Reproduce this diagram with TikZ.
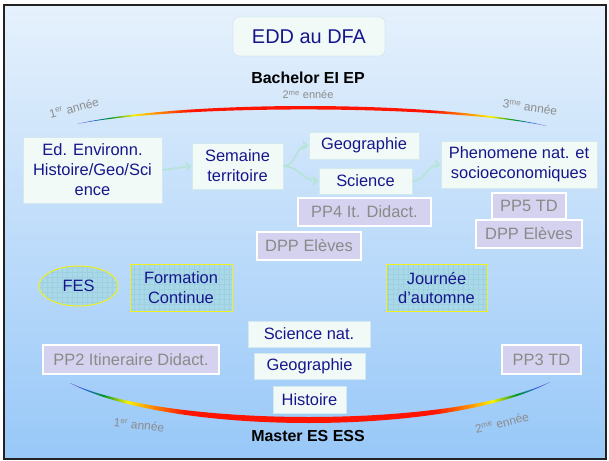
\documentclass[tikz,border=0pt]{standalone}
\usepackage{fontspec}
\setmainfont{Liberation Sans}
\usetikzlibrary{arrows.meta,shapes.geometric}
\definecolor{navy}{RGB}{22,22,140}
\definecolor{bgtop}{RGB}{230,241,252}
\definecolor{bgbot}{RGB}{152,200,248}
\definecolor{lfill}{RGB}{242,250,248}
\definecolor{lborder}{RGB}{212,232,240}
\definecolor{ppfill}{RGB}{212,210,238}
\definecolor{pptext}{RGB}{138,138,138}
\definecolor{tealfill}{RGB}{169,216,232}
\definecolor{gridc}{RGB}{158,208,226}
\definecolor{yel}{RGB}{240,240,30}
\definecolor{mint}{RGB}{182,228,216}
\definecolor{yrgray}{RGB}{140,140,140}
\definecolor{framec}{RGB}{34,34,34}
\definecolor{rbviolet}{RGB}{110,40,200}
\definecolor{rbblue}{RGB}{40,100,225}
\definecolor{rbgreen}{RGB}{0,150,40}
\definecolor{rbyellow}{RGB}{250,240,0}
\definecolor{rborange}{RGB}{255,140,0}
\definecolor{rbred}{RGB}{255,20,0}
\pgfdeclarehorizontalshading{rainbow}{100bp}{color(0bp)=(rbviolet); color(25bp)=(rbviolet); color(26.5bp)=(rbblue); color(28.5bp)=(rbgreen); color(31bp)=(rbyellow); color(33.5bp)=(rborange); color(37bp)=(rbred); color(63bp)=(rbred); color(66.5bp)=(rborange); color(69bp)=(rbyellow); color(71.5bp)=(rbgreen); color(73.5bp)=(rbblue); color(75bp)=(rbviolet); color(100bp)=(rbviolet)}
\begin{document}
\begin{tikzpicture}[x=1bp,y=-1bp,
  txt/.style={font=\fontsize{16.5}{20}\selectfont, text=navy, align=center},
  lbox/.style={txt, draw=lborder, fill=lfill, line width=0.8bp, inner sep=0pt},
  ppbox/.style={font=\fontsize{16.5}{20}\selectfont, text=pptext, draw=white, fill=ppfill, line width=2.2bp, inner sep=0pt},
  gridfill/.style={fill=tealfill, path picture={\draw[gridc, line width=0.3bp, step=5bp] (path picture bounding box.south west) grid (path picture bounding box.north east);}, postaction={draw=yel, line width=1bp}},
  tbox/.style={txt, gridfill, inner sep=0pt},
  conn/.style={draw=mint, line width=1.8bp, -{Straight Barb[length=4.5bp,width=8bp]}},
  yr/.style={font=\fontsize{12}{14}\selectfont, text=yrgray, inner sep=0pt},
  ttl/.style={font=\bfseries\fontsize{16}{18}\selectfont, text=black, inner sep=0pt},
]
\useasboundingbox (0,0) rectangle (609,461);
\fill[white] (0,0) rectangle (609,461);
\shade[top color=bgtop, bottom color=bgbot] (4,5) rectangle (606,459);
\draw[framec, line width=2.5bp] (4,5) rectangle (606,459);

% title
\node[txt, draw=lborder, fill=lfill, rounded corners=6bp, line width=0.8bp, minimum width=152bp, minimum height=39bp, font=\fontsize{20}{24}\selectfont] (edd) at (309,36.5) {EDD au DFA};
\node[ttl] (bach) at (308,78) {Bachelor EI EP};
\node[yr, font=\fontsize{11}{13}\selectfont] (en2) at (308,95) {2\textsuperscript{me} ennée};
\node[yr, rotate=15] (y1top) at (74,108) {1\textsuperscript{er} année};
\node[yr, rotate=-8] (y3top) at (530,107) {3\textsuperscript{me} année};

% rainbow arcs
\shade[shading=rainbow] (77,124) .. controls (180,99.7) and (440,99.7) .. (547,126) .. controls (440,104.3) and (180,104.3) .. (77,124) -- cycle;
\shade[shading=rainbow] (70,383) .. controls (170,436.5) and (450,436.5) .. (550,382) .. controls (450,428.5) and (170,428.5) .. (70,383) -- cycle;

% bachelor row
\node[lbox, minimum width=139bp, minimum height=66bp] (ed) at (92.5,170) {Ed. Environn.\\Histoire/Geo/Sci\\ence};
\node[lbox, minimum width=91bp, minimum height=46bp] (sem) at (237.5,166) {Semaine\\territoire};
\node[lbox, minimum width=110bp, minimum height=27bp] (geo1) at (364,145.5) {Geographie};
\node[lbox, minimum width=93bp, minimum height=26bp] (sci1) at (365.5,181) {Science};
\node[lbox, minimum width=156bp, minimum height=47bp] (phen) at (519,164.5) {Phenomene nat. et\\socioeconomiques};

\node[ppbox, minimum width=133bp, minimum height=28bp] (pp4) at (364.5,212) {PP4 It. Didact.};
\node[ppbox, minimum width=106bp, minimum height=28bp] (dpp2) at (529,234) {DPP Elèves};
\node[ppbox, minimum width=74bp, minimum height=26bp] (pp5) at (529,206) {PP5 TD};
\node[ppbox, minimum width=104bp, minimum height=28bp] (dpp1) at (309,246) {DPP Elèves};

\draw[conn] (ed.east) -- (sem.west);
\draw[conn] (sem.east) to[out=0,in=180] (geo1.west);
\draw[conn] (sem.east) to[out=0,in=180] (sci1.west);
\draw[conn] (sci1.east) to[out=0,in=180] (phen.west);

% middle row
\node[ellipse, txt, gridfill, inner sep=0pt, minimum width=79bp, minimum height=40bp] (fes) at (78.5,286) {FES};
\node[tbox, minimum width=102bp, minimum height=46bp] (form) at (181,288) {Formation\\Continue};
\node[tbox, minimum width=101bp, minimum height=46bp] (jour) at (436.5,288) {Journée\\d’automne};

% master row
\node[lbox, minimum width=122bp, minimum height=26bp] (scin) at (309,334) {Science nat.};
\node[lbox, minimum width=111bp, minimum height=26bp] (geo2) at (309.5,366) {Geographie};
\node[lbox, minimum width=73bp, minimum height=27bp] (hist) at (309.5,399.5) {Histoire};
\node[ppbox, minimum width=176bp, minimum height=29bp] (pp2) at (131,359.5) {PP2 Itineraire Didact.};
\node[ppbox, minimum width=79bp, minimum height=29bp] (pp3) at (541.5,359.5) {PP3 TD};

\node[yr, rotate=-6] (y1bot) at (139,425) {1\textsuperscript{er} année};
\node[yr, rotate=14] (y2bot) at (502,423) {2\textsuperscript{me} ennée};
\node[ttl] (master) at (308,436) {Master ES ESS};
\end{tikzpicture}
\end{document}
